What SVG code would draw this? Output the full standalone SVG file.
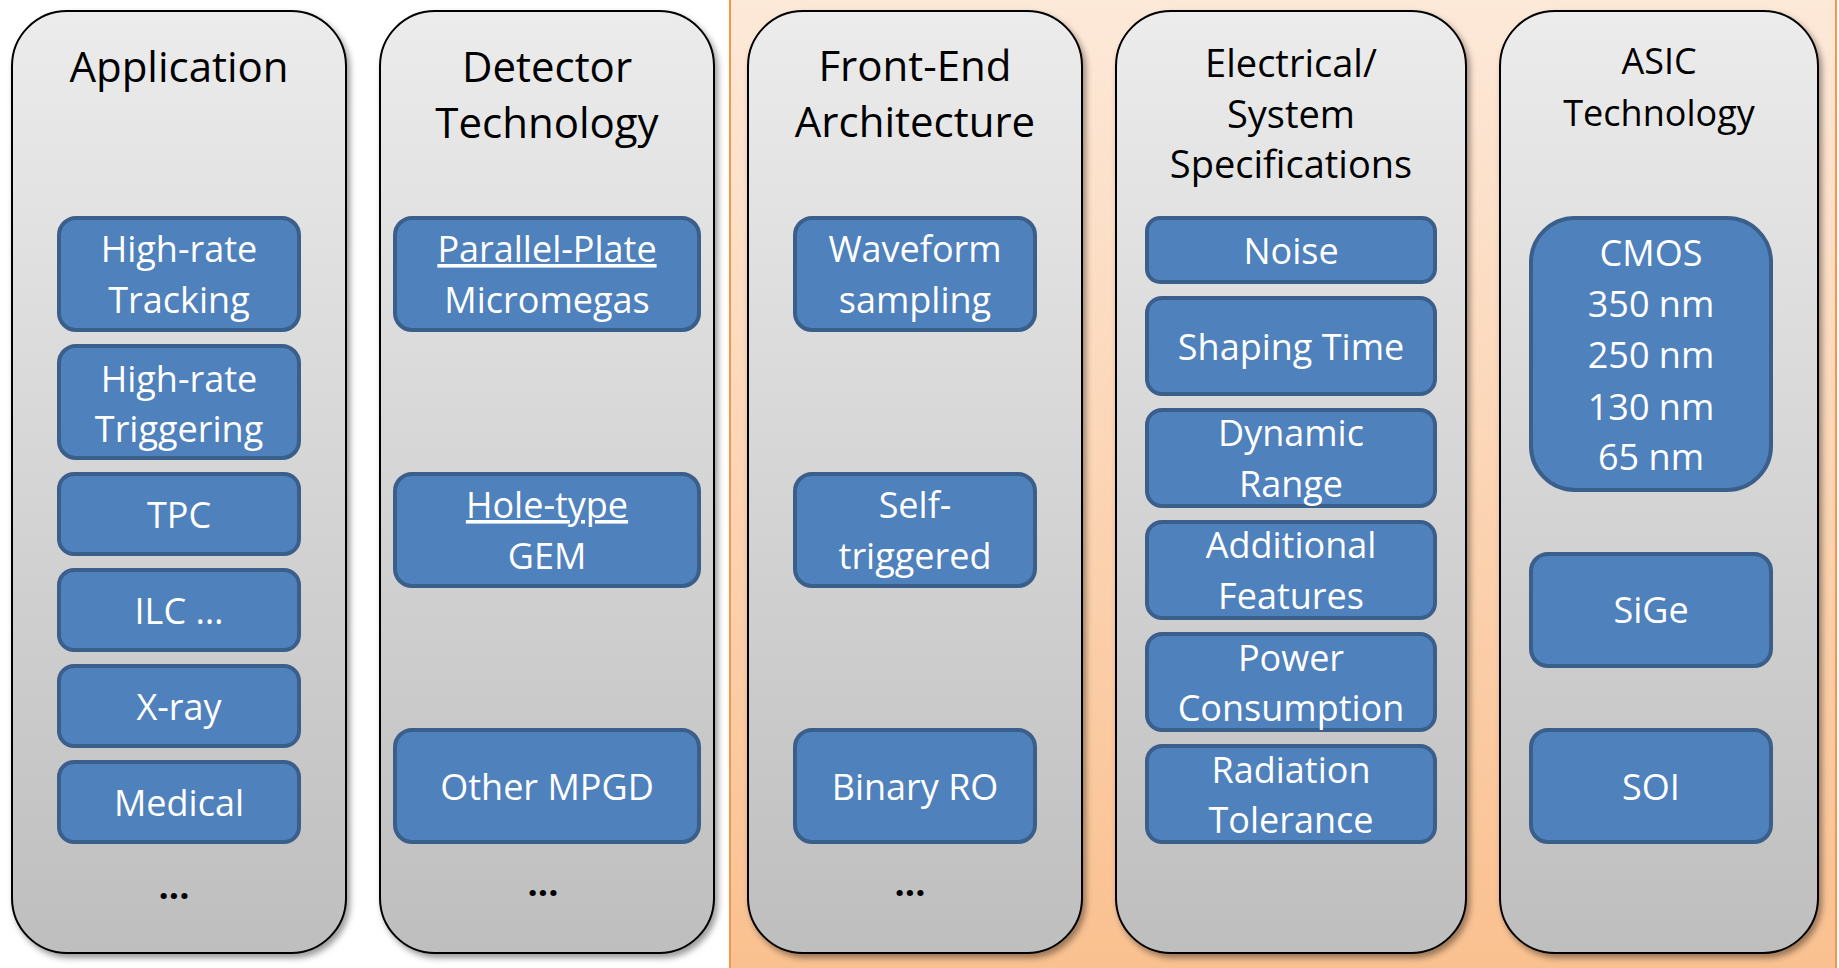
<svg xmlns="http://www.w3.org/2000/svg" width="1839" height="968" viewBox="0 0 1839 968">
  <defs>
    <linearGradient id="colGrad" x1="0" y1="0" x2="0" y2="1">
      <stop offset="0" stop-color="#ECECEC"/>
      <stop offset="1" stop-color="#BEBEBE"/>
    </linearGradient>
    <linearGradient id="orangeGrad" x1="0" y1="0" x2="0" y2="1">
      <stop offset="0" stop-color="#FDE9D9"/>
      <stop offset="1" stop-color="#FAC08F"/>
    </linearGradient>
    <filter id="shadow" x="-10%" y="-10%" width="120%" height="120%">
      <feDropShadow dx="3" dy="4" stdDeviation="3" flood-color="#000" flood-opacity="0.4"/>
    </filter>
    <style>
      .col { fill: url(#colGrad); stroke: #000; stroke-width: 2; filter: url(#shadow); }
      .title { font-family: "Open Sans", "Liberation Sans", sans-serif; fill: #000; text-anchor: middle; }
      .t42 { font-size: 42px; }
      .t38 { font-size: 38px; }
      .t36 { font-size: 36px; }
      .box { fill: #4F81BD; stroke: #3A5F8B; stroke-width: 4; }
      .lbl { font-family: "Open Sans", "Liberation Sans", sans-serif; font-size: 36px; fill: #FFFFFF; text-anchor: middle; }
      .u { text-decoration: underline; }
      .dots { font-family: "Open Sans", "Liberation Sans", sans-serif; font-size: 36px; font-weight: bold; fill: #000; text-anchor: middle; }
    </style>
  </defs>

  <rect width="1839" height="968" fill="#FFFFFF"/>
  <rect id="orange-region" x="730" y="-5" width="1106" height="980" fill="url(#orangeGrad)" stroke="#F79646" stroke-width="2"/>

  <g id="connectors"/>

  <!-- Column 1: Application -->
  <g id="col-application">
    <rect class="col" x="12" y="11" width="334" height="942" rx="55" ry="55"/>
    <text class="title t42" x="179" y="82">Application</text>
    <text class="dots" x="174" y="899">...</text>
  </g>
  <g id="app-tracking">
    <rect class="box" x="59" y="218" width="240" height="112" rx="17"/>
    <text class="lbl" x="179" y="262">High-rate</text>
    <text class="lbl" x="179" y="313">Tracking</text>
  </g>
  <g id="app-triggering">
    <rect class="box" x="59" y="346" width="240" height="112" rx="17"/>
    <text class="lbl" x="179" y="392">High-rate</text>
    <text class="lbl" x="179" y="442">Triggering</text>
  </g>
  <g id="app-tpc">
    <rect class="box" x="59" y="474" width="240" height="80" rx="15"/>
    <text class="lbl" x="179" y="528">TPC</text>
  </g>
  <g id="app-ilc">
    <rect class="box" x="59" y="570" width="240" height="80" rx="15"/>
    <text class="lbl" x="179" y="624">ILC …</text>
  </g>
  <g id="app-xray">
    <rect class="box" x="59" y="666" width="240" height="80" rx="15"/>
    <text class="lbl" x="179" y="720">X-ray</text>
  </g>
  <g id="app-medical">
    <rect class="box" x="59" y="762" width="240" height="80" rx="15"/>
    <text class="lbl" x="179" y="816">Medical</text>
  </g>

  <!-- Column 2: Detector Technology -->
  <g id="col-detector">
    <rect class="col" x="380" y="11" width="334" height="942" rx="55" ry="55"/>
    <text class="title t42" x="547" y="82">Detector</text>
    <text class="title t42" x="547" y="138">Technology</text>
    <text class="dots" x="543" y="896">...</text>
  </g>
  <g id="det-micromegas">
    <rect class="box" x="395" y="218" width="304" height="112" rx="17"/>
    <text class="lbl u" x="547" y="262">Parallel-Plate</text>
    <text class="lbl" x="547" y="313">Micromegas</text>
  </g>
  <g id="det-gem">
    <rect class="box" x="395" y="474" width="304" height="112" rx="17"/>
    <text class="lbl u" x="547" y="518">Hole-type</text>
    <text class="lbl" x="547" y="569">GEM</text>
  </g>
  <g id="det-other">
    <rect class="box" x="395" y="730" width="304" height="112" rx="17"/>
    <text class="lbl" x="547" y="800">Other MPGD</text>
  </g>

  <!-- Column 3: Front-End Architecture -->
  <g id="col-frontend">
    <rect class="col" x="748" y="11" width="334" height="942" rx="55" ry="55"/>
    <text class="title t42" x="915" y="81">Front-End</text>
    <text class="title t42" x="915" y="137">Architecture</text>
    <text class="dots" x="910" y="896">...</text>
  </g>
  <g id="fe-waveform">
    <rect class="box" x="795" y="218" width="240" height="112" rx="17"/>
    <text class="lbl" x="915" y="262">Waveform</text>
    <text class="lbl" x="915" y="313">sampling</text>
  </g>
  <g id="fe-selftrig">
    <rect class="box" x="795" y="474" width="240" height="112" rx="17"/>
    <text class="lbl" x="915" y="518">Self-</text>
    <text class="lbl" x="915" y="569">triggered</text>
  </g>
  <g id="fe-binary">
    <rect class="box" x="795" y="730" width="240" height="112" rx="17"/>
    <text class="lbl" x="915" y="800">Binary RO</text>
  </g>

  <!-- Column 4: Electrical/System Specifications -->
  <g id="col-specs">
    <rect class="col" x="1116" y="11" width="350" height="942" rx="55" ry="55"/>
    <text class="title t38" x="1291" y="77">Electrical/</text>
    <text class="title t38" x="1291" y="128">System</text>
    <text class="title t38" x="1291" y="178">Specifications</text>
  </g>
  <g id="spec-noise">
    <rect class="box" x="1147" y="218" width="288" height="64" rx="13"/>
    <text class="lbl" x="1291" y="264">Noise</text>
  </g>
  <g id="spec-shaping">
    <rect class="box" x="1147" y="298" width="288" height="96" rx="15"/>
    <text class="lbl" x="1291" y="360">Shaping Time</text>
  </g>
  <g id="spec-dynamic">
    <rect class="box" x="1147" y="410" width="288" height="96" rx="15"/>
    <text class="lbl" x="1291" y="446">Dynamic</text>
    <text class="lbl" x="1291" y="497">Range</text>
  </g>
  <g id="spec-additional">
    <rect class="box" x="1147" y="522" width="288" height="96" rx="15"/>
    <text class="lbl" x="1291" y="558">Additional</text>
    <text class="lbl" x="1291" y="609">Features</text>
  </g>
  <g id="spec-power">
    <rect class="box" x="1147" y="634" width="288" height="96" rx="15"/>
    <text class="lbl" x="1291" y="671">Power</text>
    <text class="lbl" x="1291" y="721">Consumption</text>
  </g>
  <g id="spec-radiation">
    <rect class="box" x="1147" y="746" width="288" height="96" rx="15"/>
    <text class="lbl" x="1291" y="783">Radiation</text>
    <text class="lbl" x="1291" y="833">Tolerance</text>
  </g>

  <!-- Column 5: ASIC Technology -->
  <g id="col-asic">
    <rect class="col" x="1500" y="11" width="318" height="942" rx="55" ry="55"/>
    <text class="title t36" x="1659" y="74">ASIC</text>
    <text class="title t36" x="1659" y="126">Technology</text>
  </g>
  <g id="asic-cmos">
    <rect class="box" x="1531" y="218" width="240" height="272" rx="44"/>
    <text class="lbl" x="1651" y="266">CMOS</text>
    <text class="lbl" x="1651" y="317">350 nm</text>
    <text class="lbl" x="1651" y="368">250 nm</text>
    <text class="lbl" x="1651" y="420">130 nm</text>
    <text class="lbl" x="1651" y="470">65 nm</text>
  </g>
  <g id="asic-sige">
    <rect class="box" x="1531" y="554" width="240" height="112" rx="17"/>
    <text class="lbl" x="1651" y="623">SiGe</text>
  </g>
  <g id="asic-soi">
    <rect class="box" x="1531" y="730" width="240" height="112" rx="17"/>
    <text class="lbl" x="1651" y="800">SOI</text>
  </g>
</svg>
